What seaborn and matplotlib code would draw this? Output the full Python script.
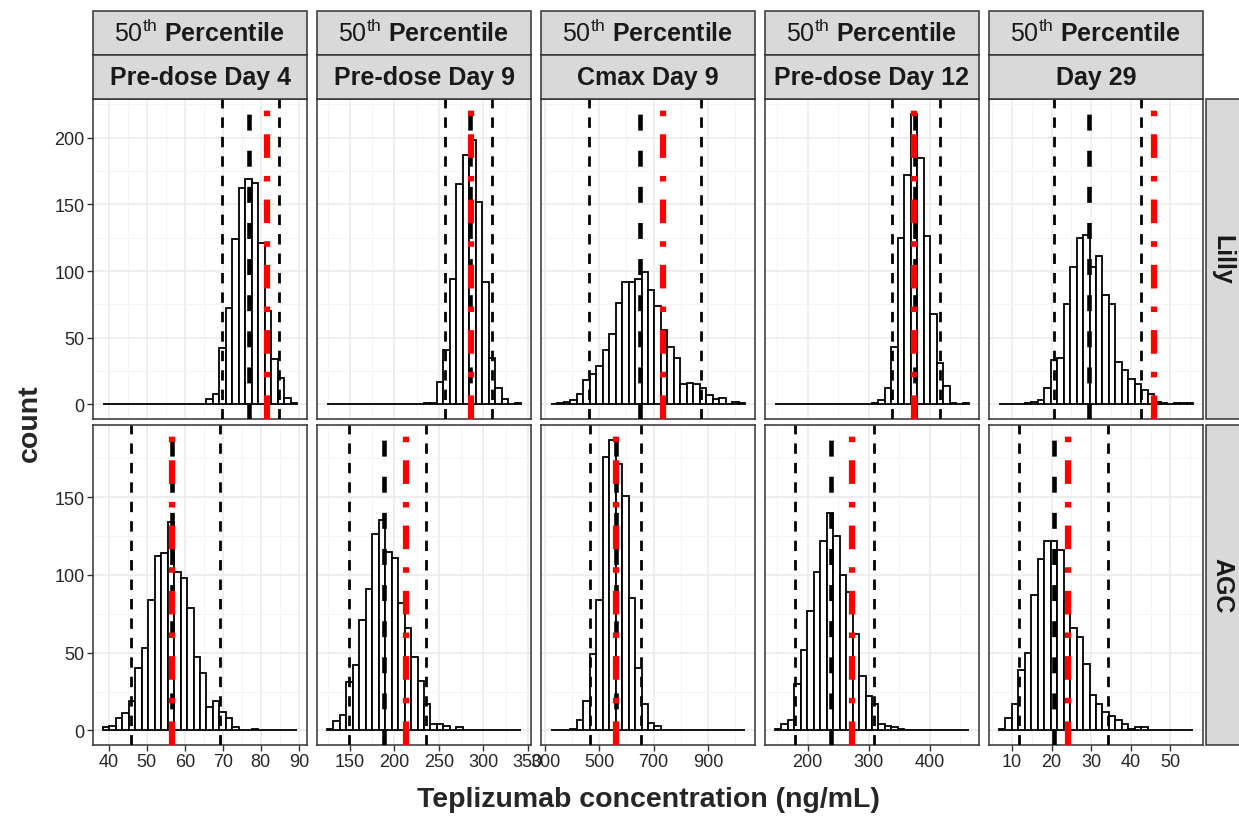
import numpy as np
import pandas as pd
import matplotlib
matplotlib.use("Agg")
import matplotlib.pyplot as plt
import seaborn as sns
from matplotlib.patches import Rectangle
from matplotlib.ticker import MultipleLocator, AutoMinorLocator

# ------------------------------------------------------------------ data
timepoints = ["Pre-dose Day 4", "Pre-dose Day 9", "Cmax Day 9", "Pre-dose Day 12", "Day 29"]
sources = ["Lilly", "AGC"]

# histogram range (ng/mL) per timepoint, 30 bins each
bin_lo = [38.4, 124.0, 320.6, 146.0, 6.67]
bin_hi = [89.6, 342.6, 1038.0, 464.9, 55.8]
n_bins = 30

lilly_day4 = [0, 0, 0, 0, 0, 0, 0, 0, 0, 0, 0, 0, 0, 0, 0, 0, 4, 8, 42, 72, 124, 162, 169, 166, 121, 70, 34, 20, 5, 1]
lilly_day9 = [0, 0, 0, 0, 0, 0, 0, 0, 0, 0, 0, 0, 0, 0, 0, 1, 1, 17, 41, 94, 165, 187, 198, 152, 92, 35, 12, 4, 0, 1]
lilly_cmax9 = [0, 1, 2, 3, 8, 18, 23, 29, 41, 53, 76, 92, 92, 94, 99, 86, 74, 56, 43, 35, 15, 16, 15, 12, 7, 4, 5, 0, 2, 1]
lilly_day12 = [0, 0, 0, 0, 0, 0, 0, 0, 0, 0, 0, 0, 0, 0, 0, 1, 3, 12, 43, 125, 172, 218, 185, 126, 68, 31, 14, 1, 0, 1]
lilly_day29 = [0, 0, 0, 0, 1, 2, 3, 12, 33, 35, 75, 103, 125, 127, 103, 111, 82, 75, 32, 26, 19, 15, 11, 8, 2, 1, 0, 1, 1, 1]

agc_day4 = [2, 3, 8, 11, 19, 40, 53, 84, 112, 114, 134, 102, 98, 79, 47, 37, 15, 19, 12, 8, 2, 0, 0, 1, 0, 0, 0, 0, 0, 0]
agc_day9 = [1, 6, 10, 31, 42, 71, 91, 126, 135, 115, 111, 82, 66, 47, 32, 17, 4, 4, 3, 0, 2, 0, 0, 0, 0, 0, 0, 0, 0, 0]
agc_cmax9 = [0, 0, 0, 1, 7, 19, 49, 84, 176, 187, 171, 151, 85, 40, 17, 5, 3, 0, 0, 0, 0, 0, 0, 0, 0, 0, 0, 0, 0, 0]
agc_day12 = [1, 4, 7, 30, 52, 77, 102, 122, 140, 125, 100, 89, 62, 35, 22, 17, 4, 3, 2, 1, 0, 0, 0, 0, 0, 0, 0, 0, 0, 0]
agc_day29 = [1, 8, 17, 39, 50, 87, 110, 122, 122, 116, 83, 66, 60, 43, 23, 17, 12, 9, 7, 4, 1, 2, 2, 0, 0, 0, 0, 0, 0, 0]

counts = {
    "Lilly": [lilly_day4, lilly_day9, lilly_cmax9, lilly_day12, lilly_day29],
    "AGC": [agc_day4, agc_day9, agc_cmax9, agc_day12, agc_day29],
}

# reference lines (ng/mL)
lilly_lower = [69.7, 257.0, 462.0, 338.4, 20.6]
lilly_median = [77.0, 285.2, 648.0, 375.7, 29.4]
lilly_upper = [84.8, 309.6, 874.5, 416.2, 42.6]
lilly_observed = [81.6, 286.3, 734.0, 373.5, 45.8]
agc_lower = [45.8, 149.3, 466.0, 180.0, 11.9]
agc_median = [56.5, 188.9, 560.6, 237.8, 20.7]
agc_upper = [69.3, 236.0, 654.0, 308.0, 34.3]
agc_observed = [56.6, 213.0, 562.0, 273.0, 24.2]

lines = {
    "Lilly": (lilly_lower, lilly_median, lilly_upper, lilly_observed),
    "AGC": (agc_lower, agc_median, agc_upper, agc_observed),
}

x_tick_step = [10, 50, 200, 100, 10]
x_tick_offset = [0, 0, 100, 0, 0]

# ------------------------------------------------------------------ style
sns.set_theme(style="white")
plt.rcParams["font.family"] = ["Liberation Sans", "DejaVu Sans"]
plt.rcParams["mathtext.fontset"] = "custom"
plt.rcParams["mathtext.rm"] = "Liberation Sans"
plt.rcParams["mathtext.it"] = "Liberation Sans:italic"
plt.rcParams["mathtext.bf"] = "Liberation Sans:bold"
plt.rcParams["lines.scale_dashes"] = False

W, H = 1239, 829
fig = plt.figure(figsize=(W / 100, H / 100), dpi=100)
fig.patch.set_facecolor("white")

col_left = [93, 317, 541, 765, 989]
pw = 214
row_top = [100, 426]
ph = 320


def fr(x0, y0, w, h):
    return [x0 / W, 1 - (y0 + h) / H, w / W, h / H]


row_max = {s: max(max(c) for c in counts[s]) for s in sources}

for r, src in enumerate(sources):
    for c, tp in enumerate(timepoints):
        ax = fig.add_axes(fr(col_left[c], row_top[r], pw, ph))
        width = (bin_hi[c] - bin_lo[c]) / n_bins
        centers = bin_lo[c] + width * (np.arange(n_bins) + 0.5)
        df = pd.DataFrame({"conc": centers, "count": counts[src][c]})
        sns.histplot(data=df, x="conc", weights="count", bins=n_bins,
                     binrange=(bin_lo[c], bin_hi[c]), ax=ax,
                     color="white", edgecolor="black", linewidth=1.3, alpha=1)
        lo_, med_, up_, obs_ = (l[c] for l in lines[src])
        for v in (lo_, up_):
            ax.axvline(v, color="black", lw=2.0, ls=(0, (7.5, 6.5)), zorder=3)
        ax.axvline(med_, color="black", lw=3.3, ls=(0, (11.5, 14.5)), zorder=3)
        ax.axvline(obs_, color="#FF0000", lw=4.5, ls=(0, (17, 13, 4, 13)), zorder=4)

        rng = bin_hi[c] - bin_lo[c]
        ax.set_xlim(bin_lo[c] - 0.05 * rng, bin_hi[c] + 0.05 * rng)
        m = row_max[src]
        ax.set_ylim(-0.05 * m, 1.05 * m)

        ax.xaxis.set_major_locator(MultipleLocator(x_tick_step[c], offset=x_tick_offset[c]))
        ax.xaxis.set_minor_locator(AutoMinorLocator(2))
        ax.yaxis.set_major_locator(MultipleLocator(50))
        ax.yaxis.set_minor_locator(AutoMinorLocator(2))
        ax.set_facecolor("white")
        ax.grid(which="major", color="#EBEBEB", lw=1.1)
        ax.grid(which="minor", color="#F4F4F4", lw=0.6)
        ax.set_axisbelow(True)
        for sp in ax.spines.values():
            sp.set_color("#333333")
            sp.set_linewidth(1.1)
        ax.set_xlabel("")
        ax.set_ylabel("")
        ax.tick_params(which="minor", length=0)
        ax.tick_params(which="major", length=4, width=1, color="#333333",
                       labelsize=13, labelcolor="#262626", pad=2)
        if r == 0:
            ax.tick_params(axis="x", which="both", bottom=False, labelbottom=False)
        else:
            ax.tick_params(axis="x", bottom=True)
        if c > 0:
            ax.tick_params(axis="y", which="both", left=False, labelleft=False)
        else:
            ax.tick_params(axis="y", left=True)

# ------------------------------------------------------------------ strips
strip_fc = "#D9D9D9"
strip_ec = "#333333"
for c, tp in enumerate(timepoints):
    for (y0, h, txt) in [(12, 43.5, r"$\mathrm{50^{th}}$ Percentile"), (55.5, 44, tp)]:
        fig.patches.append(Rectangle((col_left[c] / W, 1 - (y0 + h) / H), pw / W, h / H,
                                     transform=fig.transFigure, facecolor=strip_fc,
                                     edgecolor=strip_ec, lw=1.1, zorder=0))
        fig.text((col_left[c] + pw / 2) / W, 1 - (y0 + h / 2) / H, txt,
                 ha="center", va="center", fontsize=18, fontweight="bold", color="#1A1A1A")

for r, src in enumerate(sources):
    fig.patches.append(Rectangle((1206 / W, 1 - (row_top[r] + ph) / H), 44 / W, ph / H,
                                 transform=fig.transFigure, facecolor=strip_fc,
                                 edgecolor=strip_ec, lw=1.1, zorder=0))
    fig.text(1222 / W, 1 - (row_top[r] + ph / 2) / H, src, rotation=270,
             ha="center", va="center", fontsize=18, fontweight="bold", color="#1A1A1A")

fig.text(30 / W, 1 - 423 / H, "count", rotation=90, ha="center", va="center",
         fontsize=20.5, fontweight="bold")
fig.text(648 / W, 1 - 800 / H, "Teplizumab concentration (ng/mL)", ha="center",
         va="center", fontsize=20.5, fontweight="bold")

fig.savefig("out.png", dpi=100)
